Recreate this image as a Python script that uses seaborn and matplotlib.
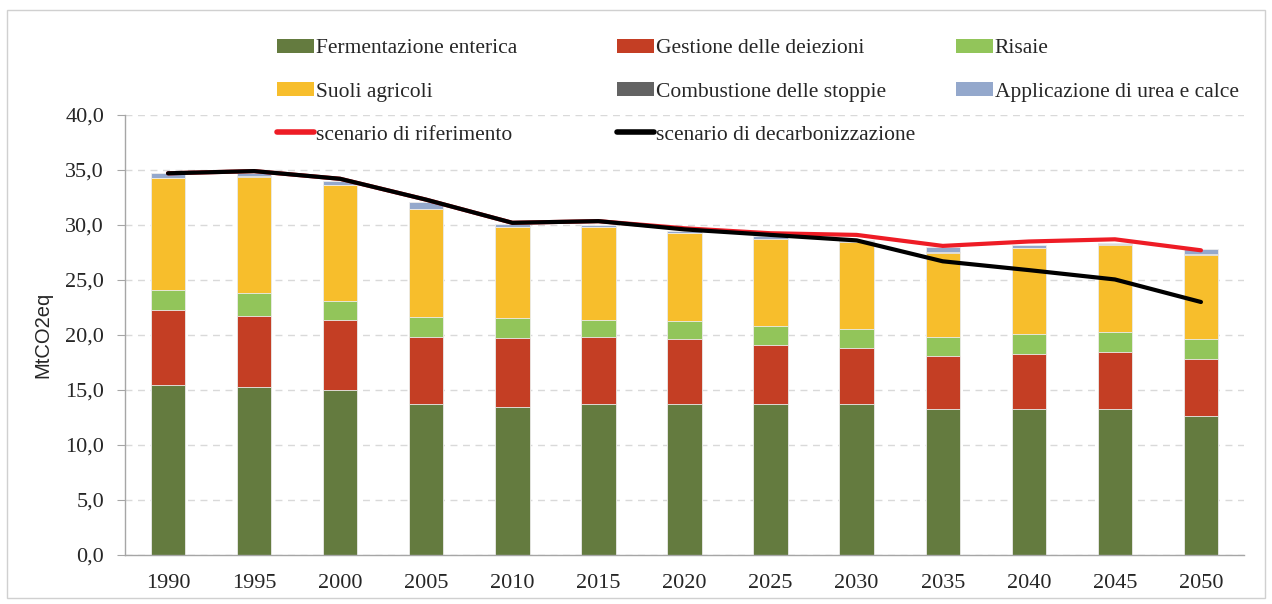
import numpy as np
import pandas as pd
import seaborn as sns
import matplotlib
matplotlib.use('Agg')
import matplotlib.pyplot as plt
from matplotlib.patches import Patch, Rectangle
from matplotlib.lines import Line2D
from matplotlib.ticker import FuncFormatter, FixedLocator

# dati (MtCO2eq)
anni = ['1990', '1995', '2000', '2005', '2010', '2015', '2020',
        '2025', '2030', '2035', '2040', '2045', '2050']
fermentazione = [15.45, 15.25, 15.0, 13.7, 13.5, 13.7, 13.75, 13.7, 13.7, 13.25, 13.3, 13.3, 12.6]
deiezioni = [6.85, 6.5, 6.4, 6.1, 6.2, 6.1, 5.9, 5.4, 5.1, 4.85, 5.0, 5.2, 5.2]
risaie = [1.8, 2.05, 1.7, 1.8, 1.85, 1.6, 1.6, 1.7, 1.75, 1.7, 1.75, 1.75, 1.8]
suoli = [10.15, 10.6, 10.5, 9.85, 8.25, 8.4, 8.0, 7.9, 7.95, 7.7, 7.85, 7.95, 7.7]
stoppie = [0.03, 0.03, 0.03, 0.03, 0.03, 0.03, 0.03, 0.03, 0.03, 0.03, 0.03, 0.03, 0.03]
urea = [0.42, 0.27, 0.37, 0.57, 0.22, 0.17, 0.22, 0.27, 0.07, 0.47, 0.27, 0.17, 0.47]
scen_rif = [34.7, 34.9, 34.2, 32.3, 30.2, 30.35, 29.7, 29.25, 29.1, 28.1, 28.5, 28.7, 27.7]
scen_decarb = [34.7, 34.9, 34.2, 32.3, 30.2, 30.35, 29.6, 29.1, 28.6, 26.7, 25.9, 25.05, 23.0]

serie = [
    ('Fermentazione enterica', fermentazione, '#647B3F'),
    ('Gestione delle deiezioni', deiezioni, '#C43E24'),
    ('Risaie', risaie, '#92C55A'),
    ('Suoli agricoli', suoli, '#F7BE2C'),
    ('Combustione delle stoppie', stoppie, '#636363'),
    ('Applicazione di urea e calce', urea, '#94A8CC'),
]

sns.set_style('white')
plt.rcParams['font.family'] = ['Liberation Serif', 'DejaVu Serif']

fig = plt.figure(figsize=(12.72, 6.04), dpi=100)
ax = fig.add_axes([125 / 1272, 49 / 604, 1119 / 1272, 440 / 604])

df = pd.DataFrame({'anno': anni})
cum = np.zeros(len(anni))
cumulati = []
for nome, val, col in serie:
    cum = cum + np.array(val)
    cumulati.append((nome, cum.copy(), col))

# barre impilate: dalla cima verso il basso, ognuna copre la precedente
for nome, top, col in reversed(cumulati):
    df['v'] = top
    sns.barplot(data=df, x='anno', y='v', color=col, width=0.4, saturation=1,
                edgecolor='#EDEDED', linewidth=0.6, ax=ax)

pos = np.arange(len(anni))
sns.lineplot(x=pos, y=scen_rif, color='#EE1C25', linewidth=3, ax=ax)
sns.lineplot(x=pos, y=scen_decarb, color='black', linewidth=3, ax=ax)

ax.set_xlim(-0.5, len(anni) - 0.5)
ax.set_ylim(0, 40)
ax.set_yticks(np.arange(0, 40.1, 5))
ax.yaxis.set_major_formatter(FuncFormatter(lambda v, p: ('%.1f' % v).replace('.', ',')))
ax.grid(axis='y', color='#D9D9D9', linestyle=(0, (5, 4)), linewidth=1)
ax.set_axisbelow(True)
ax.set_xlabel('')
ax.set_ylabel('MtCO2eq', family=['Liberation Sans'], fontsize=14.5, labelpad=9)

ax.xaxis.set_minor_locator(FixedLocator(np.arange(-0.5, len(anni), 1)))
ax.tick_params(axis='x', which='major', length=0, labelsize=16, pad=14)
ax.tick_params(axis='x', which='minor', length=6, color='#A6A6A6', direction='out')
ax.tick_params(axis='y', length=6, color='#A6A6A6', direction='out', labelsize=16,
               left=True, pad=9)
for s in ['top', 'right']:
    ax.spines[s].set_visible(False)
for s in ['left', 'bottom']:
    ax.spines[s].set_color('#A6A6A6')
    ax.spines[s].set_linewidth(1)

# legenda in tre colonne
def voce(nome, col):
    return Patch(facecolor=col, edgecolor='none', label=nome)

colonne = [
    [voce(serie[0][0], serie[0][2]), voce(serie[3][0], serie[3][2]),
     Line2D([], [], color='#EE1C25', linewidth=4, label='scenario di riferimento')],
    [voce(serie[1][0], serie[1][2]), voce(serie[4][0], serie[4][2]),
     Line2D([], [], color='black', linewidth=4, label='scenario di decarbonizzazione')],
    [voce(serie[2][0], serie[2][2]), voce(serie[5][0], serie[5][2])],
]
x_col = [277, 617, 956]
for xc, h in zip(x_col, colonne):
    fig.legend(handles=h, loc='upper left', bbox_to_anchor=(xc / 1272, 1 - 39 / 604),
               frameon=False, fontsize=15.5, borderpad=0, borderaxespad=0,
               handlelength=1.7, handleheight=0.6, handletextpad=0.1,
               labelspacing=1.1)

fig.patches.append(Rectangle((7 / 1272, 6 / 604), 1258 / 1272, 588 / 604,
                             transform=fig.transFigure, fill=False,
                             edgecolor='#D0D0D0', linewidth=1))

fig.savefig('out.png', dpi=100)
